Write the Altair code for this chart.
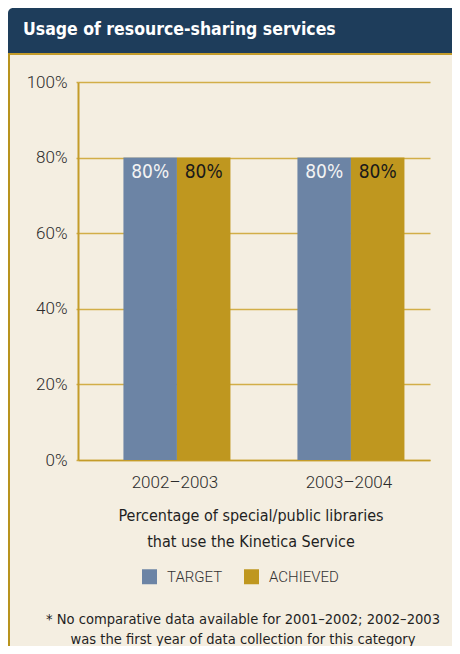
import altair as alt
import pandas as pd

# ---- data ----
years = ["2002–2003", "2003–2004"]
series = ["TARGET", "ACHIEVED"]
target_values = [0.80, 0.80]
achieved_values = [0.80, 0.80]
y_ticks = [0.0, 0.2, 0.4, 0.6, 0.8, 1.0]
title_text = "Usage of resource-sharing services"
x_title_lines = ["Percentage of special/public libraries", "that use the Kinetica Service"]
footnote_lines = ["* No comparative data available for 2001–2002; 2002–2003",
                  "was the first year of data collection for this category"]

# ---- styles ----
BLUE = "#6c84a5"
GOLD_BAR = "#bf971f"
GOLD = "#c49c2a"
GRID = "#d2ae48"
NAVY = "#1e3d5b"
CREAM = "#f4eee1"
COND = "'Liberation Sans Narrow', 'DejaVu Sans Condensed', 'Roboto Condensed', 'Arial Narrow', sans-serif"
LIGHT = "Roboto, 'Liberation Sans', sans-serif"

rows = []
for i, yr in enumerate(years):
    rows.append({"year": yr, "series": series[0], "value": target_values[i]})
    rows.append({"year": yr, "series": series[1], "value": achieved_values[i]})
df = pd.DataFrame(rows)
one = pd.DataFrame({"k": [0]})

W, H = 352, 378
PL, PT, PR, PB = 70, 74, 22, 186

x_enc = alt.X("year:N", sort=years,
              scale=alt.Scale(paddingInner=0.385, paddingOuter=0.204, align=0.64),
              axis=alt.Axis(title=None, labelAngle=0, labelFont=LIGHT, labelFontSize=17,
                            labelFontWeight=300, labelColor="#2b2b2b", ticks=False, tickSize=0,
                            labelPadding=14, labelOffset=-2, domainColor=GOLD, domainWidth=1.5))
xo_enc = alt.XOffset("series:N", sort=series,
                     scale=alt.Scale(domain=series, paddingInner=0, paddingOuter=0))
y_enc = alt.Y("value:Q", scale=alt.Scale(domain=[0, 1], nice=False),
              axis=alt.Axis(title=None, values=y_ticks, format=".0%", grid=True,
                            gridColor=GRID, gridWidth=1.5, domainColor=GOLD, domainWidth=2,
                            tickColor=GRID, tickSize=2, tickWidth=1.5, labelFont=LIGHT,
                            labelFontSize=17, labelFontWeight=300, labelPadding=9,
                            labelColor="#2b2b2b"))

bars = alt.Chart(df).mark_bar().encode(
    x=x_enc, xOffset=xo_enc, y=y_enc,
    color=alt.Color("series:N", sort=series,
                    scale=alt.Scale(domain=series, range=[BLUE, GOLD_BAR]),
                    legend=alt.Legend(title=None, orient="none", legendX=64, legendY=487,
                                      direction="horizontal", symbolType="square",
                                      symbolSize=225, symbolStrokeWidth=0, symbolOpacity=1,
                                      labelFont=LIGHT, labelFontSize=15, labelFontWeight=300,
                                      labelColor="#333333", labelOffset=10, columnPadding=21,
                                      padding=0)),
)

text_t = alt.Chart(df).transform_filter(alt.datum.series == series[0]).mark_text(
    font=COND, fontSize=19, baseline="middle", dy=14, color="#f3f3f3"
).encode(x=x_enc, xOffset=xo_enc, y=y_enc, text=alt.Text("value:Q", format=".0%"))

text_a = alt.Chart(df).transform_filter(alt.datum.series == series[1]).mark_text(
    font=COND, fontSize=19, baseline="middle", dy=14, color="#1a1a1a"
).encode(x=x_enc, xOffset=xo_enc, y=y_enc, text=alt.Text("value:Q", format=".0%"))

corner = alt.Chart(one).mark_rect(color="white").encode(
    x=alt.value(-PL), x2=alt.value(-PL + 8), y=alt.value(-PT), y2=alt.value(-PT + 8))
header = alt.Chart(one).mark_rect(color=NAVY, cornerRadiusTopLeft=5).encode(
    x=alt.value(-PL), x2=alt.value(W + PR), y=alt.value(-PT), y2=alt.value(-29))
header_line = alt.Chart(one).mark_rule(color=GOLD, strokeWidth=2).encode(
    x=alt.value(-PL), x2=alt.value(W + PR), y=alt.value(-28))
border = alt.Chart(one).mark_rule(color="#b8931e", strokeWidth=2).encode(
    x=alt.value(-PL + 1), y=alt.value(-29), y2=alt.value(H + PB))

title = alt.Chart(one).mark_text(
    align="left", baseline="alphabetic", font=COND, fontWeight="bold", fontSize=17.5, color="white"
).encode(x=alt.value(-55), y=alt.value(-47), text=alt.value(title_text))

x_title = alt.Chart(one).mark_text(
    align="center", baseline="alphabetic", font=COND, fontSize=16, lineBreak="\n",
    lineHeight=26, color="#1f1f1f"
).encode(x=alt.value(173), y=alt.value(439), text=alt.value("\n".join(x_title_lines)))

footnote = alt.Chart(one).mark_text(
    align="center", baseline="alphabetic", font=COND, fontSize=14.6, lineBreak="\n",
    lineHeight=20, color="#1f1f1f"
).encode(x=alt.value(165), y=alt.value(542), text=alt.value("\n".join(footnote_lines)))

chart = alt.layer(
    corner, header, header_line, border, bars, text_t, text_a, title, x_title, footnote
).properties(
    width=W, height=H,
    padding={"left": PL, "top": PT, "right": PR, "bottom": PB},
    autosize=alt.AutoSizeParams(type="none"),
).configure(background=CREAM).configure_view(stroke=None)

chart.save("out.html", embed_options={"renderer": "svg", "actions": False})
